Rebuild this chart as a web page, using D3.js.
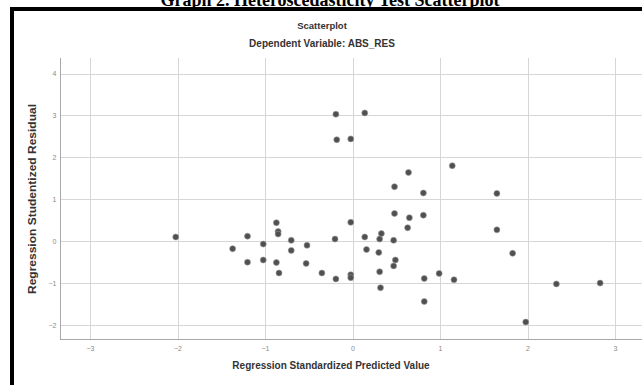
<!DOCTYPE html>
<html>
<head>
<meta charset="utf-8">
<script src="https://cdn.jsdelivr.net/npm/d3@7"></script>
<style>
  html, body { margin: 0; padding: 0; background: #fff; }
  svg { display: block; }
</style>
</head>
<body>
<div id="chart"></div>
<script>
// predicted value (x) and studentized residual (y)
const predicted = [
  -2.02, -1.37, -1.20, -1.20, -1.02, -1.02, -0.87, -0.87, -0.85, -0.85,
  -0.84, -0.70, -0.70, -0.52, -0.53, -0.35, -0.19, -0.18, -0.20, -0.19,
  -0.02, -0.02, -0.02, -0.02, 0.14, 0.14, 0.16, 0.33, 0.31, 0.30,
  0.31, 0.32, 0.48, 0.48, 0.47, 0.49, 0.47, 0.64, 0.65, 0.63,
  0.81, 0.81, 0.82, 0.82, 0.99, 1.14, 1.16, 1.65, 1.65, 1.83,
  1.98, 2.33, 2.83
];
const residual = [
  0.10, -0.18, 0.12, -0.50, -0.07, -0.45, 0.44, -0.51, 0.23, 0.17,
  -0.76, 0.02, -0.22, -0.10, -0.53, -0.76, 3.03, 2.42, 0.05, -0.90,
  2.44, 0.45, -0.80, -0.87, 3.06, 0.10, -0.20, 0.18, 0.05, -0.27,
  -0.73, -1.11, 1.30, 0.66, 0.02, -0.45, -0.59, 1.64, 0.56, 0.32,
  1.15, 0.62, -0.89, -1.44, -0.77, 1.80, -0.92, 1.14, 0.27, -0.29,
  -1.93, -1.02, -1.00
];
const xTicks = [-3, -2, -1, 0, 1, 2, 3];
const yTicks = [-2, -1, 0, 1, 2, 3, 4];

const width = 642, height = 385;
const sans = "'Liberation Sans', Arial, sans-serif";

const svg = d3.select("#chart").append("svg")
    .attr("width", width)
    .attr("height", height);

// outer black frame (right and bottom fall outside the picture)
svg.append("path")
    .attr("d", "M12,385 V9 H642")
    .attr("fill", "none")
    .attr("stroke", "#000")
    .attr("stroke-width", 4);

// caption, cut off at the top edge like in the scan
svg.append("text")
    .attr("x", 330)
    .attr("y", 6)
    .attr("text-anchor", "middle")
    .style("font-family", "'Liberation Serif', 'Times New Roman', serif")
    .style("font-weight", "bold")
    .style("font-size", "18px")
    .text("Graph 2. Heteroscedasticity Test Scatterplot");

svg.append("text")
    .attr("x", 322)
    .attr("y", 29)
    .attr("text-anchor", "middle")
    .style("font-family", sans)
    .style("font-weight", "bold")
    .style("font-size", "9.5px")
    .style("fill", "#333")
    .text("Scatterplot");

svg.append("text")
    .attr("x", 322)
    .attr("y", 47)
    .attr("text-anchor", "middle")
    .style("font-family", sans)
    .style("font-weight", "bold")
    .style("font-size", "10px")
    .style("fill", "#333")
    .text("Dependent Variable: ABS_RES");

// plot area
const plotLeft = 60, plotTop = 58, plotBottom = 339;

const x = d3.scaleLinear().domain([-3, 3]).range([90, 615]);
const y = d3.scaleLinear().domain([-2, 4]).range([325, 73.5]);

const grid = svg.append("g").attr("stroke", "#d6d6d6").attr("stroke-width", 1);

grid.selectAll(".hline")
    .data(yTicks)
    .enter()
    .append("line")
    .attr("x1", plotLeft)
    .attr("x2", width)
    .attr("y1", d => Math.round(y(d)) + 0.5)
    .attr("y2", d => Math.round(y(d)) + 0.5);

grid.selectAll(".vline")
    .data(xTicks)
    .enter()
    .append("line")
    .attr("x1", d => Math.round(x(d)) + 0.5)
    .attr("x2", d => Math.round(x(d)) + 0.5)
    .attr("y1", plotTop)
    .attr("y2", plotBottom);

// axes
const xAxis = d3.axisBottom(x).tickValues(xTicks).tickFormat(d3.format("d")).tickSize(0).tickPadding(7);
const yAxis = d3.axisLeft(y).tickValues(yTicks).tickFormat(d3.format("d")).tickSize(0).tickPadding(4);

const gx = svg.append("g")
    .attr("transform", `translate(0,${plotBottom + 0.5})`)
    .call(xAxis);
gx.select(".domain").remove();

const gy = svg.append("g")
    .attr("transform", `translate(${plotLeft + 0.5},0)`)
    .call(yAxis);
gy.select(".domain").remove();

svg.selectAll(".tick text")
    .style("font-family", sans)
    .style("font-size", "7px")
    .style("fill", "#8a8a8a");

svg.append("line")
    .attr("x1", plotLeft + 0.5).attr("x2", plotLeft + 0.5)
    .attr("y1", plotTop).attr("y2", plotBottom + 0.5)
    .attr("stroke", "#a8a8a8");
svg.append("line")
    .attr("x1", plotLeft).attr("x2", width)
    .attr("y1", plotBottom + 0.5).attr("y2", plotBottom + 0.5)
    .attr("stroke", "#a8a8a8");

// axis titles
svg.append("text")
    .attr("x", 331)
    .attr("y", 369)
    .attr("text-anchor", "middle")
    .style("font-family", sans)
    .style("font-weight", "bold")
    .style("font-size", "10px")
    .style("fill", "#333")
    .text("Regression Standardized Predicted Value");

svg.append("text")
    .attr("transform", "translate(36,199) rotate(-90)")
    .attr("text-anchor", "middle")
    .attr("textLength", 190)
    .attr("lengthAdjust", "spacingAndGlyphs")
    .style("font-family", sans)
    .style("font-weight", "bold")
    .style("font-size", "10px")
    .style("fill", "#333")
    .text("Regression Studentized Residual");

// points
svg.append("g")
    .selectAll("circle")
    .data(predicted.map((d, i) => [d, residual[i]]))
    .enter()
    .append("circle")
    .attr("cx", d => x(d[0]))
    .attr("cy", d => y(d[1]))
    .attr("r", 3)
    .attr("fill", "#505050")
    .attr("stroke", "#999")
    .attr("stroke-width", 0.6);
</script>
</body>
</html>
